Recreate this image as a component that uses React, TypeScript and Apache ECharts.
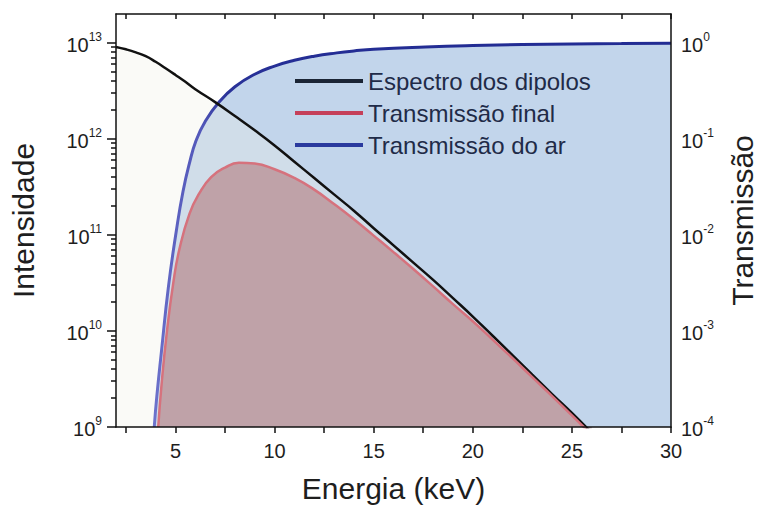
import { useEffect, useRef } from "react";
import * as echarts from "echarts";

// Dipole (bending magnet) spectrum, photons vs energy (keV)
const spectrumEnergy = [2, 2.5, 3, 3.5, 4, 4.5, 5, 5.5, 6, 7, 8, 9, 10, 11, 12, 13, 14, 15, 16, 17, 18, 19, 20, 21, 22, 23, 24, 25, 26];
const spectrumIntensity = [
  9.0e12, 8.5e12, 7.9e12, 7.2e12, 6.3e12, 5.4e12, 4.6e12, 3.9e12, 3.27e12, 2.4e12,
  1.72e12, 1.22e12, 8.5e11, 5.75e11, 3.89e11, 2.63e11, 1.78e11, 1.17e11, 7.76e10, 5.13e10,
  3.39e10, 2.19e10, 1.41e10, 8.9e9, 5.6e9, 3.5e9, 2.2e9, 1.4e9, 8.7e8,
];

// Spectrum after passing through air
const finalEnergy = [4.13, 4.3, 4.56, 4.89, 5.2, 5.71, 6.2, 6.8, 7.5, 8.2, 9, 10, 11, 12, 13, 14, 15, 16, 17, 18, 19, 20, 21, 22, 23, 24, 25, 26];
const finalIntensity = [
  1.0e9, 2.8e9, 9.5e9, 3.16e10, 7.1e10, 1.66e11, 2.69e11, 3.98e11, 5.0e11, 5.6e11,
  5.5e11, 4.8e11, 3.9e11, 2.95e11, 2.09e11, 1.45e11, 9.8e10, 6.6e10, 4.4e10, 2.9e10,
  1.9e10, 1.26e10, 8.1e9, 5.2e9, 3.3e9, 2.1e9, 1.32e9, 8.3e8,
];

// Air transmission (right axis)
const airEnergy = [3.93, 4.06, 4.3, 4.64, 5.05, 5.38, 5.7, 6.04, 6.5, 7.2, 8, 9, 10, 11, 12, 13.14, 14, 15, 17.6, 20, 22.5, 25, 27.5, 30];
const airTransmission = [
  1.0e-4, 2.09e-4, 6.3e-4, 2.82e-3, 1.12e-2, 2.82e-2, 5.5e-2, 9.55e-2, 0.151, 0.24,
  0.347, 0.468, 0.569, 0.653, 0.721, 0.78, 0.817, 0.851, 0.899, 0.931,
  0.953, 0.967, 0.975, 0.982,
];

// Axis ticks and labels
const xLabelValues = [5, 10, 15, 20, 25, 30];
const xTickValues = [2.5, 5, 7.5, 10, 12.5, 15, 17.5, 20, 22.5, 25, 27.5, 30];
const intensityDecades = [1e9, 1e10, 1e11, 1e12, 1e13];
const transmissionDecades = [1e-4, 1e-3, 1e-2, 1e-1, 1];
const minorFactors = [2, 3, 4, 5, 6, 7, 8, 9];
const intensityMinor = intensityDecades.flatMap((d) => minorFactors.map((f) => f * d));

const FONT = "'Liberation Sans', Arial, Helvetica, sans-serif";
const INK = "#1e1e1e";

const pair = (xs: number[], ys: number[]) => xs.map((x, i) => [x, ys[i]]);

const powerLabel = (v: number) => `{b|10}{s|${Math.round(Math.log10(v))}}`;
const powerRich = {
  b: { fontSize: 20, lineHeight: 24, verticalAlign: "bottom", color: INK, fontFamily: FONT },
  s: { fontSize: 12, lineHeight: 8, verticalAlign: "top", color: INK, fontFamily: FONT },
};

export default function App() {
  const ref = useRef<HTMLDivElement>(null);

  useEffect(() => {
    if (!ref.current) return;
    const chart = echarts.init(ref.current, null, { renderer: "svg" });
    const yTop = 1.98e13;
    const tTop = 1.98;

    chart.setOption({
      animation: false,
      backgroundColor: "#ffffff",
      textStyle: { fontFamily: FONT },
      grid: { left: 115, right: 84, top: 14, bottom: 80 },
      legend: {
        orient: "vertical",
        left: 290,
        top: 64,
        icon: "rect",
        itemWidth: 68,
        itemHeight: 4,
        itemGap: 8,
        selectedMode: false,
        textStyle: { fontSize: 24, color: "#1f2b48", fontFamily: FONT },
        data: [
          { name: "Espectro dos dipolos", itemStyle: { color: "#1b2535" } },
          { name: "Transmissão final", itemStyle: { color: "#c5405a" } },
          { name: "Transmissão do ar", itemStyle: { color: "#2a3a9e" } },
        ],
        z: 10,
      },
      xAxis: [
        {
          type: "value",
          min: 2,
          max: 30,
          position: "bottom",
          z: 5,
          name: "Energia (keV)",
          nameLocation: "middle",
          nameGap: 46,
          nameTextStyle: { fontSize: 30, color: INK, fontFamily: FONT },
          axisLine: { show: true, onZero: false, lineStyle: { color: "#111", width: 1.5 } },
          axisTick: { show: true, inside: false, length: 6, customValues: xTickValues, lineStyle: { color: "#111", width: 1.5 } },
          axisLabel: { show: true, customValues: xLabelValues, margin: 14, fontSize: 20, color: INK, fontFamily: FONT },
          splitLine: { show: false },
        },
        {
          type: "value",
          min: 2,
          max: 30,
          position: "top",
          z: 5,
          axisLine: { show: true, onZero: false, lineStyle: { color: "#111", width: 1.5 } },
          axisTick: { show: true, inside: true, length: 5, customValues: xTickValues, lineStyle: { color: "#111", width: 1.5 } },
          axisLabel: { show: false },
          splitLine: { show: false },
        },
      ],
      yAxis: [
        {
          type: "log",
          logBase: 10,
          min: 1e9,
          max: yTop,
          position: "left",
          z: 5,
          name: "Intensidade",
          nameLocation: "middle",
          nameGap: 78,
          nameTextStyle: { fontSize: 30, color: INK, fontFamily: FONT },
          axisLine: { show: true, onZero: false, lineStyle: { color: "#111", width: 1.5 } },
          axisTick: { show: true, inside: false, length: 9, customValues: intensityDecades, lineStyle: { color: "#111", width: 1.5 } },
          axisLabel: { show: true, customValues: intensityDecades, margin: 14, formatter: powerLabel, rich: powerRich },
          splitLine: { show: false },
        },
        {
          type: "log",
          logBase: 10,
          min: 1e-4,
          max: tTop,
          position: "right",
          z: 5,
          name: "Transmissão",
          nameLocation: "middle",
          nameGap: 56,
          nameTextStyle: { fontSize: 30, color: INK, fontFamily: FONT },
          axisLine: { show: true, onZero: false, lineStyle: { color: "#111", width: 1.5 } },
          axisTick: { show: false },
          axisLabel: { show: true, customValues: transmissionDecades, margin: 10, formatter: powerLabel, rich: powerRich },
          splitLine: { show: false },
        },
        {
          type: "log",
          logBase: 10,
          min: 1e9,
          max: yTop,
          position: "left",
          z: 5,
          axisLine: { show: false },
          axisTick: { show: true, inside: false, length: 5, customValues: intensityMinor, lineStyle: { color: "#111", width: 1.5 } },
          axisLabel: { show: false },
          splitLine: { show: false },
        },
      ],
      series: [
        {
          name: "Transmissão do ar",
          type: "line",
          xAxisIndex: 0,
          yAxisIndex: 1,
          data: pair(airEnergy, airTransmission),
          showSymbol: false,
          smooth: 0.5,
          lineStyle: {
            width: 3,
            color: new echarts.graphic.LinearGradient(0, 0, 0, 1, [
              { offset: 0, color: "#222c93" },
              { offset: 0.13, color: "#2a3399" },
              { offset: 0.22, color: "#5358ba" },
              { offset: 1, color: "#6d73cc" },
            ]),
          },
          itemStyle: { color: "#2a3a9e" },
          areaStyle: { color: "#c2d5eb", opacity: 1, origin: "start" },
        },
        {
          name: "Espectro dos dipolos",
          type: "line",
          xAxisIndex: 0,
          yAxisIndex: 0,
          data: pair(spectrumEnergy, spectrumIntensity),
          showSymbol: false,
          smooth: 0.5,
          lineStyle: { color: "#111111", width: 2.5 },
          itemStyle: { color: "#1b2535" },
          areaStyle: { color: "rgba(240, 240, 228, 0.45)", origin: "start" },
        },
        {
          name: "Transmissão final",
          type: "line",
          xAxisIndex: 0,
          yAxisIndex: 0,
          data: pair(finalEnergy, finalIntensity),
          showSymbol: false,
          smooth: 0.5,
          lineStyle: { color: "#d6727d", width: 2.5 },
          itemStyle: { color: "#c5405a" },
          areaStyle: { color: "#bfa2a8", opacity: 1, origin: "start" },
        },
      ],
    });

    return () => chart.dispose();
  }, []);

  return (
    <div
      ref={ref}
      style={{ position: "fixed", left: 0, top: 0, width: 765, height: 508, background: "#fff" }}
    />
  );
}
